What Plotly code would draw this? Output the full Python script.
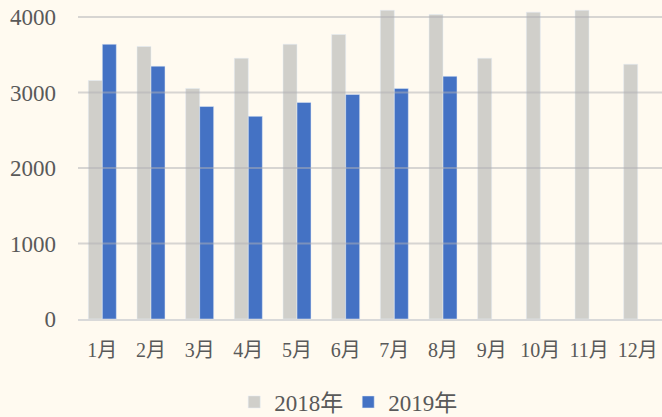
import plotly.graph_objects as go

months = ["1月", "2月", "3月", "4月", "5月", "6月", "7月", "8月", "9月", "10月", "11月", "12月"]
values_2018 = [3160, 3610, 3055, 3455, 3640, 3770, 4090, 4035, 3455, 4065, 4090, 3375]
values_2019 = [3640, 3350, 2815, 2685, 2870, 2975, 3055, 3215]
y_ticks = [0, 1000, 2000, 3000, 4000]

font_family = "Liberation Serif, Times New Roman, Noto Sans CJK SC, serif"
text_color = "#595959"
bg = "#fffaf0"

fig = go.Figure()
fig.add_trace(go.Bar(name="2018年", x=months, y=values_2018, marker_color="#d0cfca"))
fig.add_trace(go.Bar(name="2019年", x=months[:len(values_2019)], y=values_2019, marker_color="#4472c4"))

# gridlines drawn above the bars, semi-transparent
for t in y_ticks[1:]:
    fig.add_shape(type="line", xref="paper", yref="y", x0=0, x1=1, y0=t, y1=t,
                  line=dict(color="rgba(176,176,180,0.5)", width=2), layer="above")

fig.update_layout(
    width=662, height=417,
    paper_bgcolor=bg, plot_bgcolor=bg,
    margin=dict(l=78, r=0, t=2, b=98, autoexpand=False),
    barmode="group", bargap=0.425, bargroupgap=0,
    font=dict(family=font_family, size=21, color=text_color),
    showlegend=True,
    legend=dict(orientation="h", x=0.526, xanchor="center", xref="container",
                y=0.036, yanchor="middle", yref="container",
                font=dict(size=23, color=text_color), itemwidth=30, tracegroupgap=0),
)
fig.update_xaxes(showgrid=False, showline=True, linecolor="#d9d9d9", linewidth=2,
                 ticks="", ticklabelstandoff=12, tickfont=dict(size=20, color=text_color))
fig.update_yaxes(range=[0, 4200], tickvals=y_ticks, showgrid=False,
                 zeroline=False, showline=False, ticks="",
                 ticklabelstandoff=21, tickfont=dict(size=23, color=text_color))

fig.write_html("out.html", config={"displayModeBar": False},
               post_script="document.body.style.margin='0';document.body.style.background='#fffaf0';")
